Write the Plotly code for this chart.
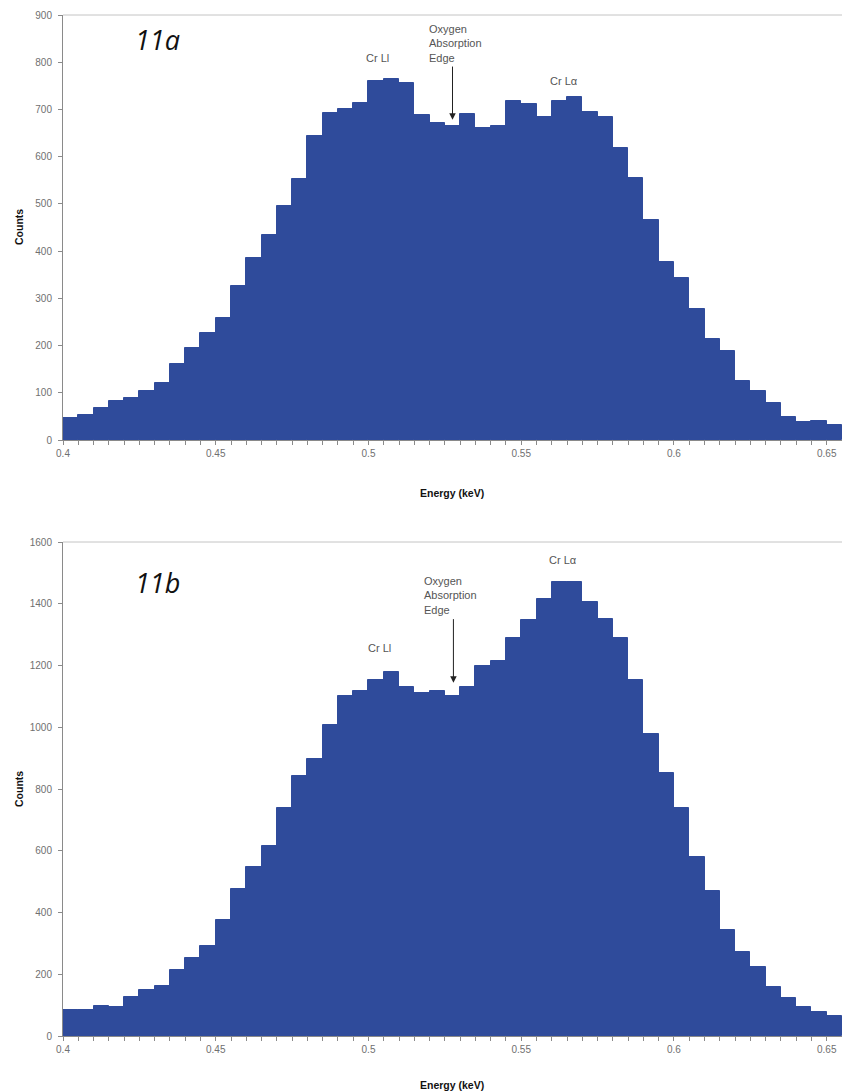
import plotly.graph_objects as go

# Energy bins (keV), left edge of each 5 eV channel
bin_start = [0.400, 0.405, 0.410, 0.415, 0.420, 0.425, 0.430, 0.435, 0.440, 0.445,
             0.450, 0.455, 0.460, 0.465, 0.470, 0.475, 0.480, 0.485, 0.490, 0.495,
             0.500, 0.505, 0.510, 0.515, 0.520, 0.525, 0.530, 0.535, 0.540, 0.545,
             0.550, 0.555, 0.560, 0.565, 0.570, 0.575, 0.580, 0.585, 0.590, 0.595,
             0.600, 0.605, 0.610, 0.615, 0.620, 0.625, 0.630, 0.635, 0.640, 0.645,
             0.650]

# Spectrum 11a counts per channel
counts_a = [47, 53, 67, 83, 88, 104, 121, 160, 194, 226,
            258, 326, 386, 434, 496, 553, 643, 693, 700, 713,
            761, 764, 756, 689, 672, 664, 691, 660, 665, 717,
            711, 684, 717, 727, 694, 683, 618, 554, 465, 378,
            343, 277, 213, 189, 124, 104, 78, 48, 39, 41,
            32]

# Spectrum 11b counts per channel
counts_b = [84, 84, 98, 95, 127, 149, 162, 214, 252, 290,
            376, 475, 549, 616, 738, 843, 897, 1008, 1102, 1116,
            1152, 1178, 1132, 1111, 1119, 1100, 1129, 1199, 1213, 1289,
            1348, 1415, 1469, 1472, 1405, 1351, 1289, 1154, 979, 851,
            738, 579, 470, 344, 273, 225, 160, 122, 95, 77,
            65]

BIN_W = 0.005
BAR_COLOR = "#2F4B9B"
TICK_FONT = dict(family="Liberation Sans, Arial, sans-serif", size=10, color="#707070")
TITLE_FONT = dict(family="Liberation Sans, Arial, sans-serif", size=10.5, color="#111111", weight="bold")
NOTE_FONT = dict(family="Liberation Sans, Arial, sans-serif", size=11, color="#555555")
PANEL_FONT = dict(family="Open Sans, sans-serif", size=27, color="#111111", style="italic")

W, H = 842, 1092


def py(px):
    """paper y fraction from a pixel row measured from the top"""
    return (H - px) / H


fig = go.Figure()
for ys, xa, ya in ((counts_a, "x", "y"), (counts_b, "x2", "y2")):
    fig.add_trace(go.Bar(x=bin_start, y=ys, width=BIN_W, offset=0,
                         marker=dict(color=BAR_COLOR, line=dict(color=BAR_COLOR, width=1)),
                         xaxis=xa, yaxis=ya, showlegend=False))

x_left = 63 / W
xaxis_common = dict(
    range=[0.4, 0.655], tick0=0.4, dtick=0.05, showgrid=False, zeroline=False,
    showline=True, linecolor="#8a8a8a", linewidth=1,
    ticks="outside", ticklen=4, tickcolor="#8a8a8a", tickfont=TICK_FONT,
    minor=dict(dtick=BIN_W, tick0=0.4, ticks="outside", ticklen=4,
               tickcolor="#8a8a8a", showgrid=False),
)
yaxis_common = dict(
    showgrid=False, zeroline=False, showline=True, linecolor="#8a8a8a", linewidth=1,
    ticks="outside", ticklen=4, tickcolor="#8a8a8a", tickfont=TICK_FONT,
    ticklabelstandoff=4,
)

fig.update_layout(
    width=W, height=H, margin=dict(l=0, r=0, t=0, b=0, autoexpand=False),
    paper_bgcolor="white", plot_bgcolor="white", bargap=0,
    xaxis=dict(domain=[x_left, 1.0], anchor="y", **xaxis_common),
    yaxis=dict(domain=[py(440), py(15)], anchor="x", range=[0, 900], dtick=100, **yaxis_common),
    xaxis2=dict(domain=[x_left, 1.0], anchor="y2", **xaxis_common),
    yaxis2=dict(domain=[py(1036), py(542)], anchor="x2", range=[0, 1600], dtick=200, **yaxis_common),
)

# light frame line along the top of each plot area
for xr, yr in (("x domain", "y domain"), ("x2 domain", "y2 domain")):
    fig.add_shape(type="line", xref=xr, yref=yr, x0=0, x1=1, y0=1, y1=1,
                  line=dict(color="#c4c4c4", width=1))

ann = []
# axis titles
for y_mid, y_title in ((227, 493), (789, 1085)):
    ann.append(dict(text="Counts", xref="paper", yref="paper", x=19 / W, y=py(y_mid),
                    textangle=-90, showarrow=False, font=TITLE_FONT,
                    xanchor="center", yanchor="middle"))
    ann.append(dict(text="Energy (keV)", xref="paper", yref="paper", x=452 / W, y=py(y_title),
                    showarrow=False, font=TITLE_FONT, xanchor="center", yanchor="middle"))

# panel labels
ann.append(dict(text="11a", xref="paper", yref="paper", x=133 / W, y=py(40),
                showarrow=False, font=PANEL_FONT, xanchor="left", yanchor="middle"))
ann.append(dict(text="11b", xref="paper", yref="paper", x=133 / W, y=py(582),
                showarrow=False, font=PANEL_FONT, xanchor="left", yanchor="middle"))

# line labels, panel a
ann += [
    dict(text="Cr Ll", xref="x", yref="y", x=0.5030, y=809, showarrow=False, font=NOTE_FONT),
    dict(text="Cr Lα", xref="x", yref="y", x=0.5641, y=760, showarrow=False, font=NOTE_FONT),
    dict(text="Oxygen<br>Absorption<br>Edge", xref="x", yref="y", x=0.5193, y=840,
         showarrow=False, font=NOTE_FONT, align="left", xanchor="left", yanchor="middle"),
    dict(text="", xref="x", yref="y", x=0.5275, y=678, axref="x", ayref="y",
         ax=0.5275, ay=794, showarrow=True, arrowhead=2, arrowsize=1.3,
         arrowwidth=1, arrowcolor="#222222"),
]
# line labels, panel b
ann += [
    dict(text="Cr Ll", xref="x2", yref="y2", x=0.5036, y=1258, showarrow=False, font=NOTE_FONT),
    dict(text="Cr Lα", xref="x2", yref="y2", x=0.5638, y=1543, showarrow=False, font=NOTE_FONT),
    dict(text="Oxygen<br>Absorption<br>Edge", xref="x2", yref="y2", x=0.5174, y=1426,
         showarrow=False, font=NOTE_FONT, align="left", xanchor="left", yanchor="middle"),
    dict(text="", xref="x2", yref="y2", x=0.5278, y=1144, axref="x2", ayref="y2",
         ax=0.5278, ay=1355, showarrow=True, arrowhead=2, arrowsize=1.3,
         arrowwidth=1, arrowcolor="#222222"),
]
fig.update_layout(annotations=ann)

fig.write_html("out.html")
